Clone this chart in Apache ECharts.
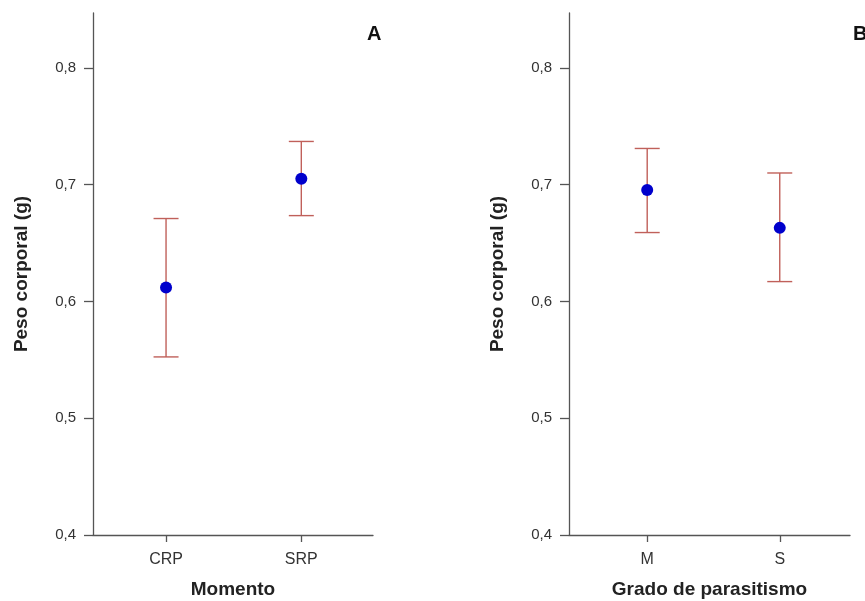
<!DOCTYPE html>
<html>
<head>
<meta charset="utf-8">
<script src="https://cdn.jsdelivr.net/npm/echarts@6/dist/echarts.min.js"></script>
<style>
  html, body { margin: 0; padding: 0; background: #fff; }
  #chart { width: 865px; height: 601px; }
</style>
</head>
<body>
<div id="chart"></div>
<script>
// panel A
const categoriesA = ["CRP", "SRP"];
const meanA = [0.612, 0.705];
const lowerA = [0.5525, 0.6735];
const upperA = [0.671, 0.737];

// panel B
const categoriesB = ["M", "S"];
const meanB = [0.6955, 0.663];
const lowerB = [0.659, 0.617];
const upperB = [0.731, 0.710];

const yTicks = [0.4, 0.5, 0.6, 0.7, 0.8];

const barColor = "#c0605a";
const dotColor = "#0000cc";
const axisColor = "#555";
const font = "Liberation Sans";

const chart = echarts.init(document.getElementById("chart"));

function errorBar(params, api) {
  const x = api.value(0);
  const lo = api.coord([x, api.value(1)]);
  const hi = api.coord([x, api.value(2)]);
  const half = 12.5;
  const style = { stroke: barColor, lineWidth: 1.4 };
  return {
    type: "group",
    children: [
      { type: "line", shape: { x1: lo[0], y1: lo[1], x2: hi[0], y2: hi[1] }, style: style },
      { type: "line", shape: { x1: hi[0] - half, y1: hi[1], x2: hi[0] + half, y2: hi[1] }, style: style },
      { type: "line", shape: { x1: lo[0] - half, y1: lo[1], x2: lo[0] + half, y2: lo[1] }, style: style }
    ]
  };
}

function xAxis(idx, cats, min, max, name) {
  return {
    type: "value",
    gridIndex: idx,
    min: min,
    max: max,
    name: name,
    nameLocation: "middle",
    nameGap: 45,
    nameTextStyle: { fontFamily: font, fontWeight: "bold", fontSize: 19, color: "#222" },
    splitLine: { show: false },
    axisLine: { onZero: false, lineStyle: { color: axisColor, width: 1.3 } },
    axisTick: { show: true, length: 7, customValues: [0, 1], lineStyle: { color: axisColor, width: 1.3 } },
    axisLabel: {
      customValues: [0, 1],
      margin: 17,
      fontFamily: font,
      fontSize: 16,
      color: "#333",
      formatter: function (v) { return cats[Math.round(v)]; }
    }
  };
}

function yAxis(idx) {
  return {
    type: "value",
    gridIndex: idx,
    min: 0.4,
    max: 0.847,
    name: "Peso corporal (g)",
    nameLocation: "middle",
    nameGap: 62,
    nameTextStyle: { fontFamily: font, fontWeight: "bold", fontSize: 19, color: "#222" },
    splitLine: { show: false },
    axisLine: { show: true, onZero: false, lineStyle: { color: axisColor, width: 1.3 } },
    axisTick: { show: true, length: 9, customValues: yTicks, lineStyle: { color: axisColor, width: 1.3 } },
    axisLabel: {
      customValues: yTicks,
      margin: 17,
      fontFamily: font,
      fontSize: 15,
      color: "#333",
      formatter: function (v) { return v.toFixed(1).replace(".", ","); }
    }
  };
}

function seriesFor(idx, mean, lower, upper) {
  const bars = mean.map(function (m, i) { return [i, lower[i], upper[i]]; });
  const dots = mean.map(function (m, i) { return [i, m]; });
  return [
    {
      type: "custom",
      xAxisIndex: idx,
      yAxisIndex: idx,
      renderItem: errorBar,
      encode: { x: 0, y: [1, 2] },
      data: bars,
      z: 2
    },
    {
      type: "scatter",
      xAxisIndex: idx,
      yAxisIndex: idx,
      symbol: "circle",
      symbolSize: 12,
      itemStyle: { color: dotColor, opacity: 1 },
      data: dots,
      z: 3
    }
  ];
}

chart.setOption({
  animation: false,
  backgroundColor: "#fff",
  title: [
    { text: "A", left: 362, top: 19, textStyle: { fontFamily: font, fontWeight: "bold", fontSize: 20, color: "#111" } },
    { text: "B", left: 848, top: 19, textStyle: { fontFamily: font, fontWeight: "bold", fontSize: 20, color: "#111" } }
  ],
  grid: [
    { left: 93, right: 492, top: 13, bottom: 66, outerBoundsMode: "none", containLabel: false },
    { left: 569, right: 15, top: 13, bottom: 66, outerBoundsMode: "none", containLabel: false }
  ],
  xAxis: [
    xAxis(0, categoriesA, -0.54, 1.53, "Momento"),
    xAxis(1, categoriesB, -0.59, 1.53, "Grado de parasitismo")
  ],
  yAxis: [yAxis(0), yAxis(1)],
  series: seriesFor(0, meanA, lowerA, upperA).concat(seriesFor(1, meanB, lowerB, upperB))
});
</script>
</body>
</html>
